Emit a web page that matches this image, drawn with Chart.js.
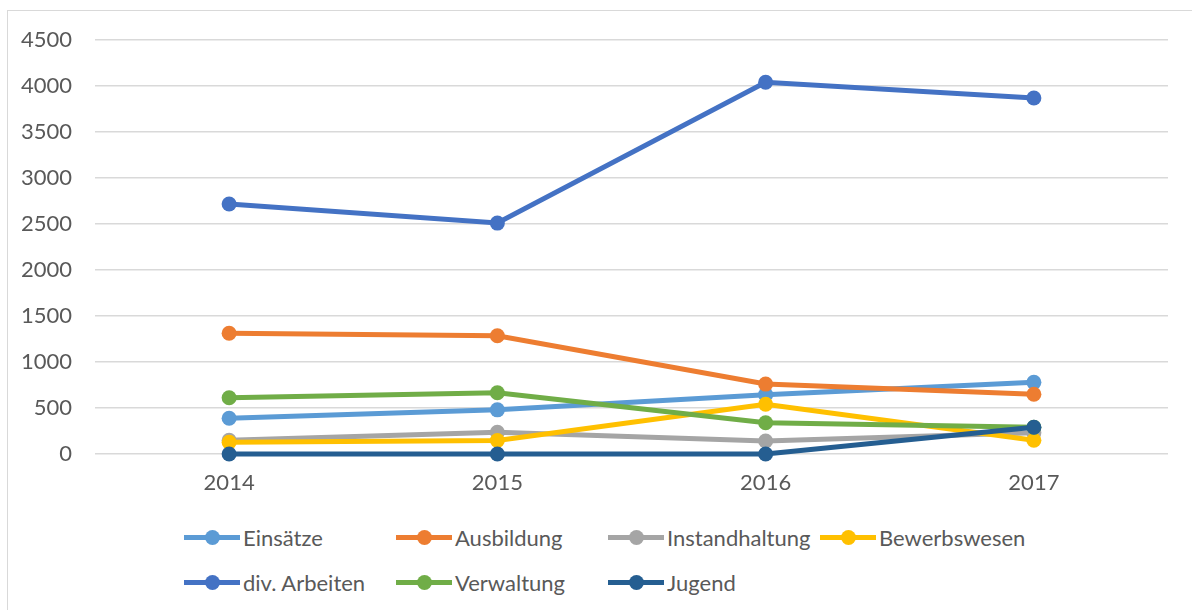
<!DOCTYPE html>
<html>
<head>
<meta charset="utf-8">
<script src="https://cdn.jsdelivr.net/npm/chart.js@4.4.1/dist/chart.umd.min.js"></script>
<style>
body{margin:0;background:#fff;width:1192px;height:610px;overflow:hidden;position:relative;font-family:Lato,sans-serif;}
#frame{position:absolute;left:7px;top:10px;width:1200px;height:620px;border:1px solid #d9d9d9;}
#wrap{position:absolute;left:0;top:0;width:1192px;height:500px;}
#legend{position:absolute;left:184px;top:515px;display:grid;grid-template-columns:212px 212px 212px 212px;grid-auto-rows:45px;}
.item{display:flex;align-items:center;color:#595959;font-size:22px;white-space:nowrap;}
.sym{position:relative;width:56px;height:5px;margin-right:3px;flex:none;}
.sym span{position:absolute;left:21px;top:-5px;width:15px;height:15px;border-radius:50%;}
</style>
</head>
<body>
<div id="frame"></div>
<div id="wrap"><canvas id="lineChart" width="1192" height="500"></canvas></div>
<div id="legend"></div>
<script>
// data
let years = ['2014','2015','2016','2017'];
let seriesNames = ['Einsätze','Ausbildung','Instandhaltung','Bewerbswesen','div. Arbeiten','Verwaltung','Jugend'];
let seriesColors = ['#5B9BD5','#ED7D31','#A5A5A5','#FFC000','#4472C4','#70AD47','#255E91'];

let einsaetze      = [388, 480, 645, 779];
let ausbildung     = [1312, 1286, 760, 650];
let instandhaltung = [150, 236, 141, 230];
let bewerbswesen   = [127, 147, 540, 150];
let divArbeiten    = [2717, 2510, 4040, 3870];
let verwaltung     = [612, 666, 340, 290];
let jugend         = [0, 0, 0, 290];

let seriesValues = [einsaetze, ausbildung, instandhaltung, bewerbswesen, divArbeiten, verwaltung, jugend];

let yTickMax = 4500;
let yTickStep = 500;

const textColor = '#595959';
const tickFont = {family:'Lato', size:22};

// legend as html so the columns line up like in excel
const htmlLegend = {
    id:'htmlLegend',
    afterUpdate(chart){
        let box = document.getElementById('legend');
        box.innerHTML = '';
        chart.data.datasets.forEach(ds=>{
            let item = document.createElement('div');
            item.className = 'item';
            item.innerHTML = `<div class="sym" style="background:${ds.borderColor}"><span style="background:${ds.borderColor}"></span></div>${ds.label}`;
            box.appendChild(item);
        });
    }
};

let datasets = seriesNames.map((name, i)=>({
    label: name,
    data: seriesValues[i],
    borderColor: seriesColors[i],
    backgroundColor: seriesColors[i],
    borderWidth: 5,
    pointRadius: 7.5,
    pointBorderWidth: 0,
    pointBackgroundColor: seriesColors[i],
    tension: 0,
    clip: false,
    order: seriesNames.length - i   // later series drawn on top
}));

let ctx = document.getElementById('lineChart').getContext('2d');
new Chart(ctx, {
    type: 'line',
    data: {
        labels: years,
        datasets: datasets
    },
    plugins: [htmlLegend],
    options: {
        responsive: false,
        animation: false,
        layout: { padding: {left:0, right:24, top:40, bottom:0} },
        plugins: {
            legend: { display:false },
            tooltip: { enabled:false }
        },
        scales: {
            x: {
                offset: true,
                grid: { display:false, drawTicks:false },
                border: { display:false },
                ticks: { color:textColor, font:tickFont, padding:16, maxRotation:0 },
                afterFit(scale){ scale.height = 46; }
            },
            y: {
                min: 0,
                max: yTickMax,
                grid: { color:'#d9d9d9', lineWidth:1.5, drawTicks:false },
                border: { display:false },
                ticks: { stepSize:yTickStep, color:textColor, font:tickFont, padding:23,
                    callback: v => String(v) },
                afterFit(scale){ scale.width = 95; }
            }
        }
    }
});
</script>
</body>
</html>
